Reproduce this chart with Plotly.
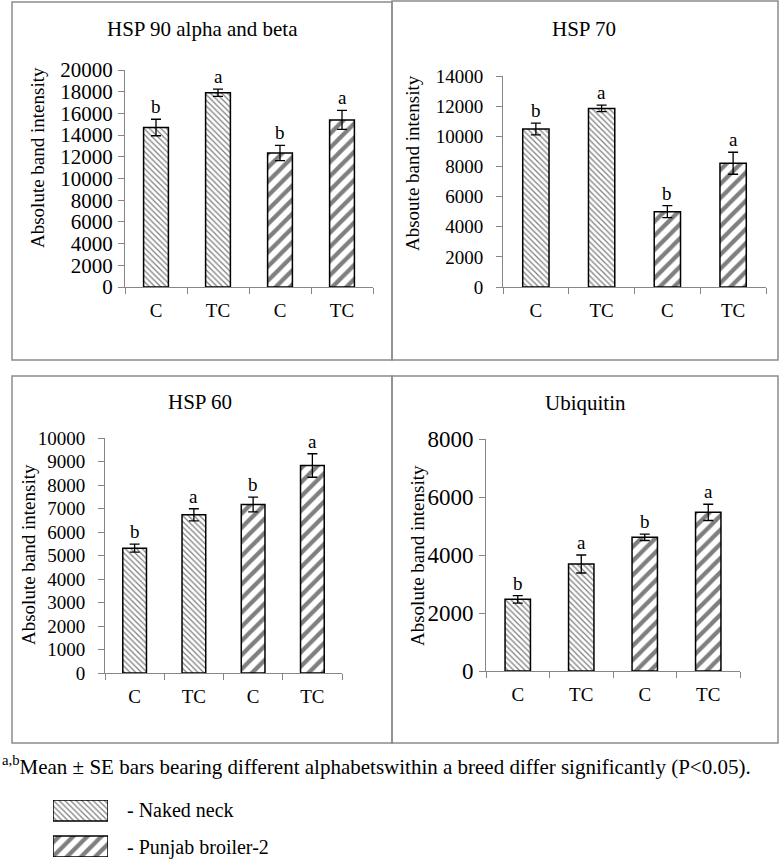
import plotly.graph_objects as go

W, H = 780, 860

# ---------------- data ----------------
categories = ["C", "TC", "C", "TC"]
breeds = ["Naked neck", "Punjab broiler-2"]
breed_index = [0, 0, 1, 1]

titles = ["HSP 90 alpha and beta", "HSP 70", "HSP 60", "Ubiquitin"]
ytitles = ["Absolute band intensity", "Absoute band intensity",
           "Absolute band intensity", "Absolute band intensity"]

hsp90 = [14700, 17900, 12350, 15400]
hsp90_se = [760, 330, 700, 880]
hsp70 = [10480, 11850, 5000, 8210]
hsp70_se = [390, 220, 400, 730]
hsp60 = [5310, 6730, 7170, 8830]
hsp60_se = [170, 260, 310, 500]
ubiquitin = [2470, 3690, 4610, 5470]
ubiquitin_se = [130, 310, 110, 280]

letters_hsp90 = ["b", "a", "b", "a"]
letters_hsp70 = ["b", "a", "b", "a"]
letters_hsp60 = ["b", "a", "b", "a"]
letters_ubiquitin = ["b", "a", "b", "a"]

y_max = [20000, 14000, 10000, 8000]
y_step = [2000, 2000, 1000, 2000]

footnote = "Mean ± SE bars bearing different alphabetswithin a breed differ significantly (P<0.05)."

# ---------------- layout helpers ----------------
def px_x(x):
    return x / W

def px_y(y):
    return 1 - y / H

# plot areas in pixel coords: (x0, x1, ytop, ybottom)
areas = [(125, 373, 70, 287), (503, 766, 76, 287),
         (105, 342, 438, 673), (486, 740, 439, 671)]
title_pos = [(202, 29), (584, 29), (200, 402), (585, 403)]
ytitle_pos = [(37, 158), (413, 163), (28, 555), (417, 556)]
tick_font = [21, 19, 19, 23]
tick_standoff = [1, 9, 9, 1]

patterns = [dict(shape="\\", size=4, solidity=0.32, fgcolor="black", bgcolor="white"),
            dict(shape="/", size=10, solidity=0.42, fgcolor="black", bgcolor="white")]

series = [(hsp90, hsp90_se, letters_hsp90), (hsp70, hsp70_se, letters_hsp70),
          (hsp60, hsp60_se, letters_hsp60), (ubiquitin, ubiquitin_se, letters_ubiquitin)]

FONT = "Liberation Serif"
AXCOL = "#868686"

fig = go.Figure()
layout = dict(width=W, height=H, margin=dict(l=0, r=0, t=0, b=0, autoexpand=False),
              paper_bgcolor="white", plot_bgcolor="white", showlegend=False,
              font=dict(family=FONT, color="black"))
annotations = []
shapes = []

positions = list(range(len(categories)))


def note(x, y, text, size, xanchor="center", yanchor="middle", **kw):
    d = dict(x=x, y=y, xref="paper", yref="paper", text=text, showarrow=False,
             xanchor=xanchor, yanchor=yanchor, font=dict(size=size, family=FONT))
    d.update(kw)
    return d


for i, (vals, se, lets) in enumerate(series):
    xa = "x" if i == 0 else f"x{i+1}"
    ya = "y" if i == 0 else f"y{i+1}"
    for b in range(len(breeds)):
        idx = [k for k in positions if breed_index[k] == b]
        fig.add_trace(go.Bar(
            x=[positions[k] for k in idx], y=[vals[k] for k in idx],
            width=0.4, xaxis=xa, yaxis=ya, name=breeds[b],
            marker=dict(color="white", line=dict(color="black", width=1.5),
                        pattern=patterns[b]),
            error_y=dict(type="data", array=[se[k] for k in idx], color="black",
                         thickness=1.3, width=5),
        ))
    # significance letters
    for k in positions:
        annotations.append(dict(x=positions[k], y=vals[k] + se[k], xref=xa, yref=ya,
                                text=lets[k], showarrow=False, xanchor="center",
                                yanchor="bottom", yshift=0,
                                font=dict(size=19, family=FONT)))
    x0, x1, yt, yb = areas[i]
    key = "" if i == 0 else str(i + 1)
    layout["xaxis" + key] = dict(
        domain=[px_x(x0), px_x(x1)], anchor=ya, range=[-0.5, 3.5],
        tickvals=positions, ticktext=categories, ticks="", showline=True,
        linecolor=AXCOL, linewidth=1, showgrid=False, zeroline=False,
        tickfont=dict(size=19, family=FONT), ticklabelstandoff=6,
        minor=dict(tickvals=[p - 0.5 for p in positions] + [positions[-1] + 0.5],
                   ticks="outside", ticklen=6, tickcolor=AXCOL, tickwidth=1),
        fixedrange=True)
    layout["yaxis" + key] = dict(
        domain=[px_y(yb), px_y(yt)], anchor=xa, range=[0, y_max[i]],
        dtick=y_step[i], tick0=0, tickformat="d", ticks="outside", ticklen=6,
        tickcolor=AXCOL, showline=True, linecolor=AXCOL, linewidth=1,
        showgrid=False, zeroline=False,
        tickfont=dict(size=tick_font[i], family=FONT),
        ticklabelstandoff=tick_standoff[i], fixedrange=True)
    tx, ty = title_pos[i]
    annotations.append(note(px_x(tx), px_y(ty), titles[i], 21))
    yx, yy = ytitle_pos[i]
    annotations.append(note(px_x(yx), px_y(yy), ytitles[i], 19, textangle=-90))

# panel frames
frames = [(12, 392, 2, 360), (392, 778, 1, 360), (12, 392, 376, 743), (392, 778, 376, 743)]
for fx0, fx1, fy0, fy1 in frames:
    shapes.append(dict(type="rect", xref="paper", yref="paper",
                       x0=px_x(fx0), x1=px_x(fx1), y0=px_y(fy1), y1=px_y(fy0),
                       line=dict(color="#8c8c8c", width=1.5), fillcolor="rgba(0,0,0,0)"))

# footnote
annotations.append(note(0, px_y(765), "<sup>a,b</sup>" + footnote, 21, xanchor="left"))

# legend swatches drawn as a small horizontal bar chart
legend_key = [1 for _ in breeds]
for b in range(len(breeds)):
    fig.add_trace(go.Bar(
        x=[legend_key[b]], y=[b], orientation="h", width=0.583,
        xaxis="x5", yaxis="y5", name=breeds[b],
        marker=dict(color="white", line=dict(color="black", width=1.5),
                    pattern=patterns[b])))
    annotations.append(note(px_x(125), px_y(810 + 37 * b), "- " + breeds[b], 20,
                            xanchor="left"))
layout["xaxis5"] = dict(domain=[px_x(53), px_x(108)], anchor="y5", range=[0, 1],
                        visible=False, fixedrange=True)
layout["yaxis5"] = dict(domain=[px_y(857), px_y(800)], anchor="x5",
                        range=[1.2917, -0.2917], visible=False, fixedrange=True)

layout["annotations"] = annotations
layout["shapes"] = shapes
fig.update_layout(**layout)
fig.write_html("out.html", config={"displayModeBar": False},
               post_script="document.body.style.margin='0';"
                           "document.body.style.overflow='hidden';")
